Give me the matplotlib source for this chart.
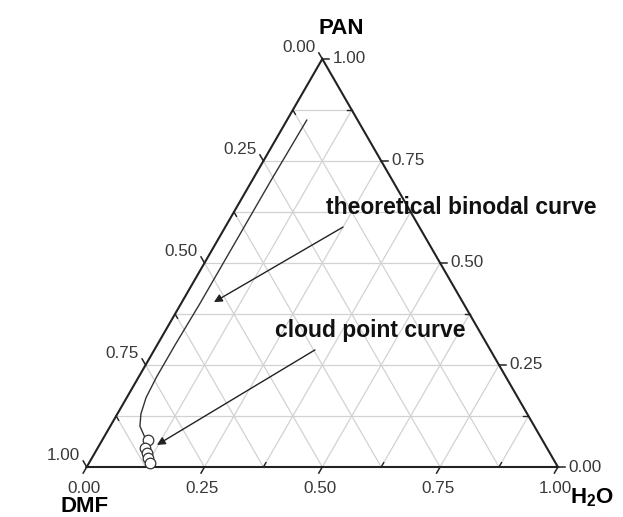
import numpy as np
import matplotlib
matplotlib.use("Agg")
import matplotlib.pyplot as plt

plt.rcParams['font.family'] = ['Liberation Sans', 'DejaVu Sans']
plt.rcParams['mathtext.fontset'] = 'custom'
plt.rcParams['mathtext.rm'] = 'Liberation Sans'
plt.rcParams['mathtext.bf'] = 'Liberation Sans:bold'

# Données (fractions : H2O, PAN ; DMF = 1 - H2O - PAN)
binodal_h2o = [0.042, 0.040, 0.040, 0.040, 0.038, 0.038, 0.041, 0.050, 0.063, 0.085]
binodal_pan = [0.85, 0.70, 0.55, 0.40, 0.30, 0.22, 0.17, 0.13, 0.10, 0.075]

cloud_h2o = [0.098, 0.101, 0.110, 0.120, 0.130]
cloud_pan = [0.066, 0.046, 0.034, 0.021, 0.009]

tick_values = [0.0, 0.25, 0.5, 0.75, 1.0]
minor_values = [0.125, 0.375, 0.625, 0.875]
grid_values = np.arange(0.125, 1.0, 0.125)

S3 = np.sqrt(3) / 2
PX = 1 / 471.2  # un pixel en unités de données
X0, Y0 = 86.7, 467  # sommet DMF en pixels


def tern(w, p):
    w = np.asarray(w, float)
    p = np.asarray(p, float)
    return w + p / 2, p * S3


def pix(px, py):
    return (px - X0) * PX, (Y0 - py) * PX


fig = plt.figure(figsize=(6.23, 5.17), dpi=100)
ax = fig.add_axes([0, 0, 1, 1])
ax.set_xlim(-X0 * PX, (623 - X0) * PX)
ax.set_ylim(-50 * PX, Y0 * PX)
ax.axis('off')

# Grille
gcol = '#d2d2d2'
for g in grid_values:
    x, y = tern([0, 1 - g], [g, g])
    ax.plot(x, y, color=gcol, lw=0.9, zorder=1)
    x, y = tern([g, g], [0, 1 - g])
    ax.plot(x, y, color=gcol, lw=0.9, zorder=1)
    x, y = tern([1 - g, 0], [0, 1 - g])
    ax.plot(x, y, color=gcol, lw=0.9, zorder=1)

# Bords du triangle
x, y = tern([0, 1, 0, 0], [0, 0, 1, 0])
ax.plot(x, y, color='#222222', lw=1.5, zorder=3, solid_joinstyle='miter')

# Graduations
axes_def = {
    'bottom': (lambda v: tern(v, 0), np.array([-0.5, -S3])),
    'right': (lambda v: tern(1 - v, v), np.array([1.0, 0.0])),
    'left': (lambda v: tern(0, 1 - v), np.array([-0.5, S3])),
}
tfs = 12.3
tcol = '#3a3a3a'
for name, (pos, d) in axes_def.items():
    for v in tick_values:
        x0, y0 = pos(v)
        x1, y1 = x0 + d[0] * 7 * PX, y0 + d[1] * 7 * PX
        ax.plot([x0, x1], [y0, y1], color='#222222', lw=1.1, zorder=3)
        lab = f'{v:.2f}'
        if name == 'bottom':
            ax.text(x1 + 1 * PX, y1 - 8 * PX, lab, ha='center', va='top',
                    fontsize=tfs, color=tcol)
        elif name == 'right':
            ax.text(x1 + 3 * PX, y1, lab, ha='left', va='center',
                    fontsize=tfs, color=tcol)
        else:
            ax.text(x1 - 3 * PX, y1 - 2 * PX, lab, ha='right', va='bottom',
                    fontsize=tfs, color=tcol)
    for v in minor_values:
        x0, y0 = pos(v)
        x1, y1 = x0 - d[0] * 5 * PX, y0 - d[1] * 5 * PX
        ax.plot([x0, x1], [y0, y1], color='#222222', lw=1.0, zorder=3)

# Courbe binodale théorique
x, y = tern(binodal_h2o, binodal_pan)
ax.plot(x, y, color='#333333', lw=1.0, zorder=4)

# Points de trouble
x, y = tern(cloud_h2o, cloud_pan)
ax.scatter(x, y, s=58, facecolor='white', edgecolor='#333333', lw=0.9, zorder=5)

# Annotations
aprops = dict(arrowstyle='-|>', color='#222222', lw=1.0, mutation_scale=12,
              shrinkA=0, shrinkB=0)
ax.annotate('', xy=tern(0.068, 0.404), xytext=tern(0.250, 0.588),
            arrowprops=aprops, zorder=6)
ax.annotate('', xy=tern(0.122, 0.054), xytext=tern(0.341, 0.287),
            arrowprops=aprops, zorder=6)
ax.text(*pix(461, 207), 'theoretical binodal curve', ha='center',
        va='center', fontsize=16.5, fontweight='bold', color='#111111', zorder=7)
ax.text(*pix(370, 331), 'cloud point curve', ha='center',
        va='center', fontsize=16.5, fontweight='bold', color='#111111', zorder=7)

# Titres des sommets
ax.text(*pix(341, 29), 'PAN', ha='center', va='center', fontsize=16,
        fontweight='bold')
ax.text(*pix(85, 506), 'DMF', ha='center', va='center', fontsize=16,
        fontweight='bold')
ax.text(*pix(592, 498), r'$\mathbf{H_2O}$', ha='center', va='center',
        fontsize=16)

fig.savefig('out.png', dpi=100)
